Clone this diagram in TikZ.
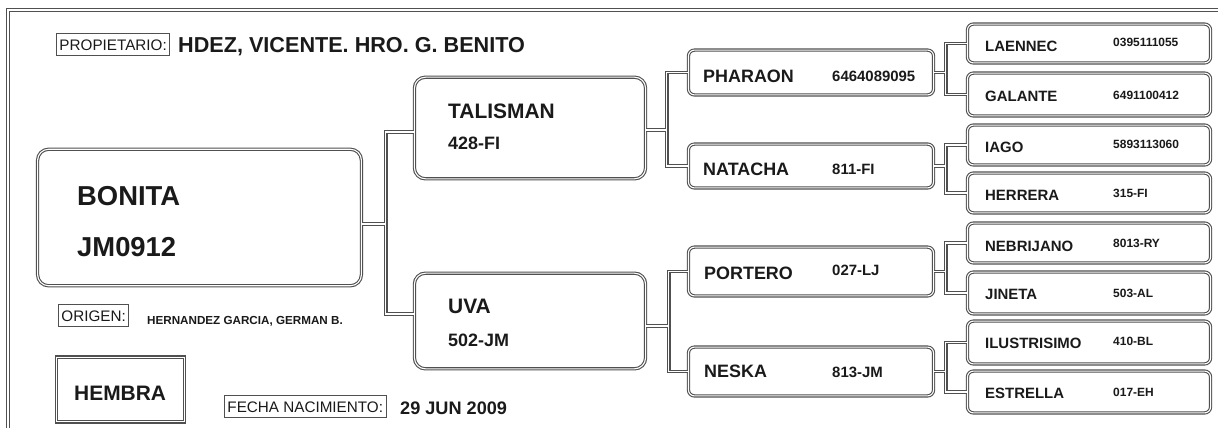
\documentclass[tikz,border=0pt]{standalone}
\usepackage{fontspec}
\setmainfont{Liberation Sans}
\definecolor{lc}{HTML}{505050}
\definecolor{tc}{HTML}{1A1A1A}
\begin{document}
\begin{tikzpicture}[x=1bp,y=-1bp,
  dbl/.style={draw=lc, line width=1.1pt, double=white, double distance=1.1pt},
  bigbox/.style={dbl, rounded corners=11pt, inner sep=0pt},
  smallbox/.style={dbl, rounded corners=6pt, inner sep=0pt},
  sqbox/.style={dbl, inner sep=0pt},
  conn/.style={dbl},
  nm/.style={font=\bfseries\fontsize{#1}{#1}\selectfont, text=tc, inner sep=0pt, anchor=base west},
  lbl/.style={draw=lc, line width=1pt, font=\fontsize{15.3}{15.3}\selectfont, text=tc,
    inner xsep=3pt, inner ysep=5.5pt, text height=11.5pt, text depth=0.5pt, anchor=base west}]
\useasboundingbox (0,0) rectangle (1218,427);
\clip (0,0) rectangle (1218,427);
\fill[white] (0,0) rectangle (1218,427);
% frame
\draw[dbl] (8,450) -- (8,10) -- (1240,10);

% header
\node[lbl] (prop) at (56,50) {PROPIETARIO:};
\node[nm=21.7] (owner) at (178,52) {HDEZ, VICENTE. HRO. G. BENITO};

% subject
\node[bigbox, minimum width=325pt, minimum height=137pt] (bonita) at (199.5,217.5) {};
\node[nm=27.5] (bonitaname) at (77,205) {BONITA};
\node[nm=27.5] (bonitaid) at (77,256) {JM0912};

\node[lbl] (origen) at (58,321) {ORIGEN:};
\node[nm=11.7] (origenval) at (147,324) {HERNANDEZ GARCIA, GERMAN B.};

\node[sqbox, minimum width=129pt, minimum height=65pt] (hembra) at (120.5,389.5) {};
\node[nm=21] (hembratxt) at (74,400) {HEMBRA};

\node[lbl] (fecha) at (224,412) {FECHA NACIMIENTO:};
\node[nm=18.2] (fechaval) at (400,414) {29 JUN 2009};

% parents
\node[bigbox, minimum width=232pt, minimum height=102pt] (talisman) at (530,128) {};
\node[nm=21] (talismanname) at (448,118) {TALISMAN};
\node[nm=18] (talismanid) at (448,149) {428-FI};

\node[bigbox, minimum width=232pt, minimum height=96pt] (uva) at (530,321) {};
\node[nm=21] (uvaname) at (448,313) {UVA};
\node[nm=18] (uvaid) at (448,346) {502-JM};

% grandparents
\node[smallbox, minimum width=246pt, minimum height=45pt] (pharaon) at (811,72.5) {};
\node[nm=18] (pharaonname) at (703,82) {PHARAON};
\node[nm=15] (pharaonid) at (832,81) {6464089095};

\node[smallbox, minimum width=246pt, minimum height=44pt] (natacha) at (811,166) {};
\node[nm=18] (natachaname) at (703,175) {NATACHA};
\node[nm=15] (natachaid) at (832,174) {811-FI};

\node[smallbox, minimum width=246pt, minimum height=49pt] (portero) at (811,271.5) {};
\node[nm=18] (porteroname) at (704,279) {PORTERO};
\node[nm=15] (porteroid) at (832,275) {027-LJ};

\node[smallbox, minimum width=246pt, minimum height=49pt] (neska) at (811,371.5) {};
\node[nm=18] (neskaname) at (704,377) {NESKA};
\node[nm=15] (neskaid) at (832,377) {813-JM};

% great-grandparents
\node[smallbox, minimum width=244pt, minimum height=39pt] (lae) at (1089,43.5) {};
\node[nm=15] (laename) at (985,51) {LAENNEC};
\node[nm=12] (laeid) at (1113,46) {0395111055};

\node[smallbox, minimum width=244pt, minimum height=43pt] (gal) at (1089,94.5) {};
\node[nm=15] (galname) at (985,101) {GALANTE};
\node[nm=12] (galid) at (1113,99) {6491100412};

\node[smallbox, minimum width=244pt, minimum height=40pt] (iago) at (1089,145) {};
\node[nm=15] (iagoname) at (985,152) {IAGO};
\node[nm=12] (iagoid) at (1113,148) {5893113060};

\node[smallbox, minimum width=244pt, minimum height=40pt] (her) at (1089,193) {};
\node[nm=15] (hername) at (985,200) {HERRERA};
\node[nm=12] (herid) at (1113,197) {315-FI};

\node[smallbox, minimum width=244pt, minimum height=40pt] (neb) at (1089,243) {};
\node[nm=15] (nebname) at (985,251) {NEBRIJANO};
\node[nm=12] (nebid) at (1113,247) {8013-RY};

\node[smallbox, minimum width=244pt, minimum height=42pt] (jin) at (1089,293) {};
\node[nm=15] (jinname) at (985,299) {JINETA};
\node[nm=12] (jinid) at (1113,297) {503-AL};

\node[smallbox, minimum width=244pt, minimum height=43pt] (ilu) at (1089,342.5) {};
\node[nm=15] (iluname) at (985,348) {ILUSTRISIMO};
\node[nm=12] (iluid) at (1113,345) {410-BL};

\node[smallbox, minimum width=244pt, minimum height=42pt] (est) at (1089,392) {};
\node[nm=15] (estname) at (985,398) {ESTRELLA};
\node[nm=12] (estid) at (1113,396) {017-EH};

% connectors
\draw[conn] ([yshift=-4pt]talisman.west) -- ++(-28,0) |- ([yshift=-6.5pt]bonita.east)
            ([yshift=7pt]uva.west) -- ++(-28,0) |- ([yshift=-6.5pt]bonita.east);
\draw[conn] (pharaon.west) -- ++(-21,0) |- ([yshift=-2pt]talisman.east)
            (natacha.west) -- ++(-21,0) |- ([yshift=-2pt]talisman.east);
\draw[conn] (portero.west) -- ++(-19,0) |- ([yshift=-5pt]uva.east)
            (neska.west) -- ++(-19,0) |- ([yshift=-5pt]uva.east);
\draw[conn] (lae.west) -- ++(-21,0) |- (pharaon.east)
            (gal.west) -- ++(-21,0) |- (pharaon.east);
\draw[conn] (iago.west) -- ++(-21,0) |- (natacha.east)
            (her.west) -- ++(-21,0) |- (natacha.east);
\draw[conn] (neb.west) -- ++(-21,0) |- (portero.east)
            (jin.west) -- ++(-21,0) |- (portero.east);
\draw[conn] (ilu.west) -- ++(-21,0) |- (neska.east)
            (est.west) -- ++(-21,0) |- (neska.east);
\end{tikzpicture}
\end{document}
